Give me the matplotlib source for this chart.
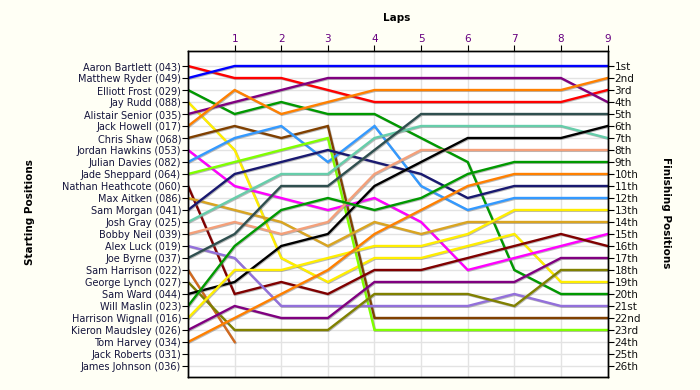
import numpy as np
import matplotlib
matplotlib.use("Agg")
import matplotlib.pyplot as plt
import matplotlib.patheffects as pe

nan = np.nan

# starting grid order (left axis)
drivers = [
    "Aaron Bartlett (043)", "Matthew Ryder (049)", "Elliott Frost (029)",
    "Jay Rudd (088)", "Alistair Senior (035)", "Jack Howell (017)",
    "Chris Shaw (068)", "Jordan Hawkins (053)", "Julian Davies (082)",
    "Jade Sheppard (064)", "Nathan Heathcote (060)", "Max Aitken (086)",
    "Sam Morgan (041)", "Josh Gray (025)", "Bobby Neil (039)",
    "Alex Luck (019)", "Joe Byrne (037)", "Sam Harrison (022)",
    "George Lynch (027)", "Sam Ward (044)", "Will Maslin (023)",
    "Harrison Wignall (016)", "Kieron Maudsley (026)", "Tom Harvey (034)",
    "Jack Roberts (031)", "James Johnson (036)",
]

finish_labels = [
    "1st", "2nd", "3rd", "4th", "5th", "6th", "7th", "8th", "9th", "10th",
    "11th", "12th", "13th", "14th", "15th", "16th", "17th", "18th", "19th",
    "20th", "21st", "22nd", "23rd", "24th", "25th", "26th",
]

laps = list(range(10))

# position at lap 0..9, one row per driver that took part
positions = [
    [1, 2, 2, 3, 4, 4, 4, 4, 4, 3],
    [2, 1, 1, 1, 1, 1, 1, 1, 1, 1],
    [3, 5, 4, 5, 5, 7, 9, 18, 20, 20],
    [4, 8, 17, 19, 17, 17, 16, 15, 19, 19],
    [5, 4, 3, 2, 2, 2, 2, 2, 2, 4],
    [6, 3, 5, 4, 3, 3, 3, 3, 3, 2],
    [7, 6, 7, 6, 22, 22, 22, 22, 22, 22],
    [8, 11, 12, 13, 12, 14, 18, 17, 16, 15],
    [9, 7, 6, 9, 6, 11, 13, 12, 12, 12],
    [10, 9, 8, 7, 23, 23, 23, 23, 23, 23],
    [11, 20, 19, 20, 18, 18, 17, 16, 15, 16],
    [12, 13, 14, 16, 14, 15, 14, 14, 14, 14],
    [13, 10, 9, 8, 9, 10, 12, 11, 11, 11],
    [14, 12, 10, 10, 7, 6, 6, 6, 6, 7],
    [15, 14, 15, 14, 10, 8, 8, 8, 8, 8],
    [16, 17, 21, 21, 21, 21, 21, 20, 21, 21],
    [17, 15, 11, 11, 8, 5, 5, 5, 5, 5],
    [18, 24, nan, nan, nan, nan, nan, nan, nan, nan],
    [19, 23, 23, 23, 20, 20, 20, 21, 18, 18],
    [20, 19, 16, 15, 11, 9, 7, 7, 7, 6],
    [21, 16, 13, 12, 13, 12, 10, 9, 9, 9],
    [22, 18, 18, 17, 16, 16, 15, 13, 13, 13],
    [23, 21, 22, 22, 19, 19, 19, 19, 17, 17],
    [24, 22, 20, 18, 15, 13, 11, 10, 10, 10],
]

colors = [
    "#ff0000", "#0000ff", "#009900", "#ffee00", "#800080", "#ff8000",
    "#804000", "#ff00ff", "#3399ff", "#80ff00", "#800000", "#daa520",
    "#191970", "#66cdaa", "#f4a07a", "#9370db", "#2f4f4f", "#d2691e",
    "#808000", "#000000", "#009900", "#ffee00", "#800080", "#ff8000",
]

fig = plt.figure(figsize=(7, 3.9), dpi=100, facecolor="#fffff5")
ax = fig.add_axes([0.2686, 0.0333, 0.5993, 0.8359])
ax.set_facecolor("white")

ax.set_xlim(0, 9)
ax.set_ylim(26.92, -0.25)

# light grid
for p in range(1, 27):
    ax.axhline(p, color="#e3e3e3", lw=1, zorder=0)
for lap in laps[1:]:
    ax.axvline(lap, color="#e3e3e3", lw=1, zorder=0)

shadow = [pe.SimpleLineShadow(offset=(0.6, -0.6), shadow_color="#777777", alpha=0.5),
          pe.Normal()]
for row, col in zip(positions, colors):
    ax.plot(laps, row, color=col, lw=1.7, solid_joinstyle="miter",
            path_effects=shadow, zorder=2)

ax.xaxis.tick_top()
ax.set_xticks(laps[1:])
ax.set_xticklabels([str(l) for l in laps[1:]], color="#660080", fontsize=7.5)
ax.tick_params(axis="x", length=4, pad=1)

ax.set_yticks(range(1, 27))
ax.set_yticklabels(drivers, color="#14143c", fontsize=7)
ax.tick_params(axis="y", length=4, pad=1)

ax2 = ax.twinx()
ax2.set_ylim(ax.get_ylim())
ax2.set_yticks(range(1, 27))
ax2.set_yticklabels(finish_labels, color="#111111", fontsize=7.5)
ax2.tick_params(axis="y", length=4, pad=1)

for a in (ax, ax2):
    for s in a.spines.values():
        s.set_color("black")
        s.set_linewidth(1.0)

fig.text(0.567, 0.955, "Laps", ha="center", va="center",
         fontsize=7.5, fontweight="bold")
fig.text(0.043, 0.455, "Starting Positions", ha="center", va="center",
         rotation=90, fontsize=7.5, fontweight="bold")
fig.text(0.951, 0.455, "Finishing Positions", ha="center", va="center",
         rotation=270, fontsize=7.5, fontweight="bold")

fig.savefig("out.png", dpi=100, facecolor=fig.get_facecolor())
